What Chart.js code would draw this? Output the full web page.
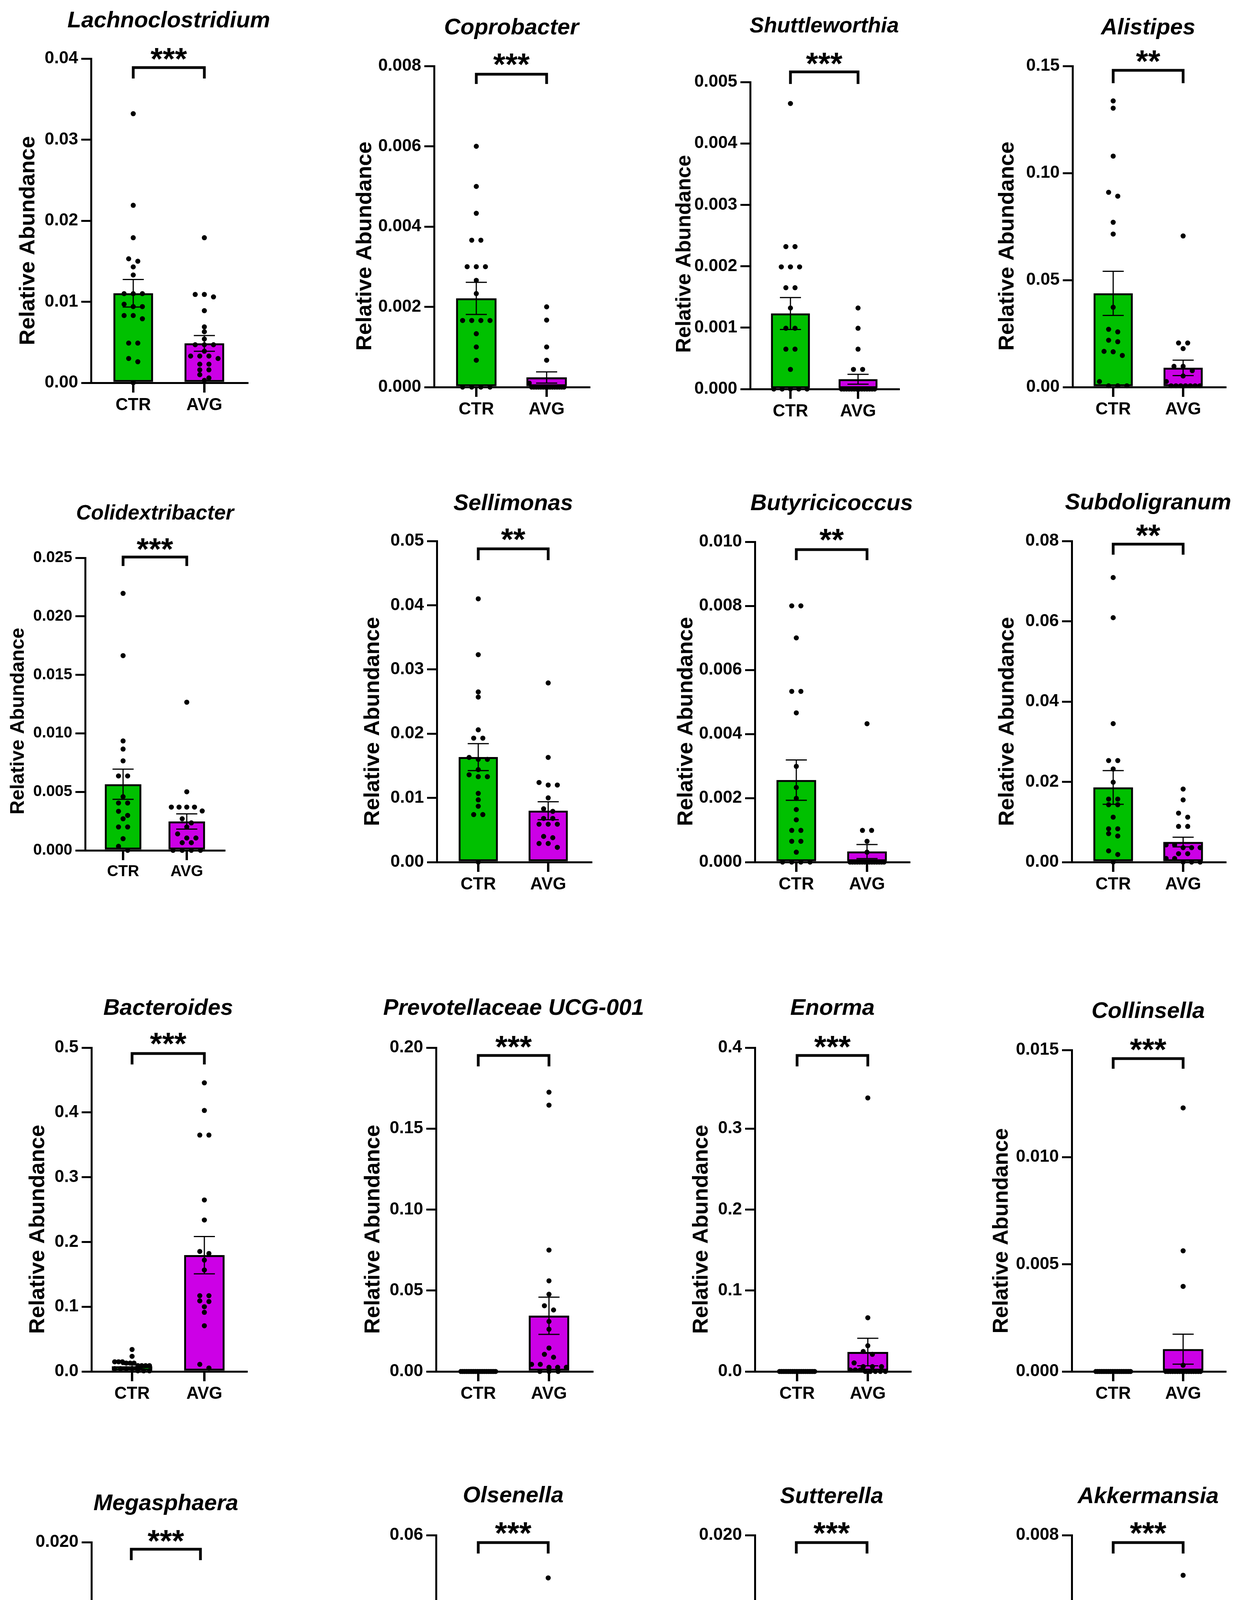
<!DOCTYPE html>
<html>
<head>
<meta charset="utf-8">
<script src="https://cdn.jsdelivr.net/npm/chart.js@4.4.0/dist/chart.umd.min.js"></script>
<style>
  html, body { margin: 0; padding: 0; background: #fff; overflow: hidden; }
  #page { position: relative; width: 3171px; height: 4860px; background: #fff; }
  #page canvas { position: absolute; }
</style>
</head>
<body>
<div id="page"></div>
<script>
// ---------------- data ----------------
const groups = ["CTR", "AVG"];

const genera = [
  "Lachnoclostridium", "Coprobacter", "Shuttleworthia", "Alistipes",
  "Colidextribacter", "Sellimonas", "Butyricicoccus", "Subdoligranum",
  "Bacteroides", "Prevotellaceae UCG-001", "Enorma", "Collinsella",
  "Megasphaera", "Olsenella", "Sutterella", "Akkermansia"
];

const stars = [
  "***", "***", "***", "**",
  "***", "**", "**", "**",
  "***", "***", "***", "***",
  "***", "***", "***", "***"
];

const yTickLabels = [
  ["0.00", "0.01", "0.02", "0.03", "0.04"],
  ["0.000", "0.002", "0.004", "0.006", "0.008"],
  ["0.000", "0.001", "0.002", "0.003", "0.004", "0.005"],
  ["0.00", "0.05", "0.10", "0.15"],
  ["0.000", "0.005", "0.010", "0.015", "0.020", "0.025"],
  ["0.00", "0.01", "0.02", "0.03", "0.04", "0.05"],
  ["0.000", "0.002", "0.004", "0.006", "0.008", "0.010"],
  ["0.00", "0.02", "0.04", "0.06", "0.08"],
  ["0.0", "0.1", "0.2", "0.3", "0.4", "0.5"],
  ["0.00", "0.05", "0.10", "0.15", "0.20"],
  ["0.0", "0.1", "0.2", "0.3", "0.4"],
  ["0.000", "0.005", "0.010", "0.015"],
  ["0.000", "0.005", "0.010", "0.015", "0.020"],
  ["0.00", "0.02", "0.04", "0.06"],
  ["0.000", "0.005", "0.010", "0.015", "0.020"],
  ["0.000", "0.002", "0.004", "0.006", "0.008"]
];

// bar heights (mean) and SEM, [CTR, AVG]
const ctrMean = [0.01105, 0.00221, 0.00123, 0.0438, 0.00565, 0.01635, 0.00256, 0.0186,
                 0.008, 0, 0, 0, 0, 0, 0.00048, 0];
const avgMean = [0.00486, 0.00024, 0.00016, 0.009, 0.00247, 0.008, 0.00033, 0.005,
                 0.1796, 0.0344, 0.024, 0.00104, 0.0036, 0.008, 0.00508, 0.0005];
const ctrSem = [0.0017, 0.0004, 0.00026, 0.0103, 0.00129, 0.0021, 0.00063, 0.0042,
                0.0028, 0, 0, 0, 0, 0, 0.0006, 0];
const avgSem = [0.00097, 0.00014, 0.00008, 0.0036, 0.00065, 0.0014, 0.00022, 0.0012,
                0.0288, 0.0115, 0.017, 0.0007, 0.00084, 0.0029, 0.0007, 0.0004];

// individual samples
const ctrValues = [
  [0.0332, 0.0219, 0.0179, 0.0153, 0.0150, 0.0143, 0.0133, 0.0110, 0.0110, 0.0110, 0.0097,
   0.0094, 0.0094, 0.0083, 0.0083, 0.0079, 0.0049, 0.0049, 0.0030, 0.0026, 0.0000],
  [0.0060, 0.0050, 0.00433, 0.00366, 0.00366, 0.0030, 0.0030, 0.0030, 0.00266, 0.00233, 0.00166,
   0.00166, 0.00166, 0.00166, 0.00133, 0.0010, 0.00067, 0, 0, 0, 0],
  [0.00465, 0.00232, 0.00232, 0.00199, 0.00199, 0.00199, 0.00165, 0.00165, 0.00132, 0.00099,
   0.00099, 0.00065, 0.00065, 0.00032, 0, 0, 0, 0, 0],
  [0.1337, 0.1303, 0.1079, 0.091, 0.0892, 0.077, 0.0715, 0.0373, 0.027, 0.0258, 0.0219, 0.0212,
   0.0167, 0.0165, 0.0148, 0.0026, 0.0006, 0.0006, 0.0006],
  [0.02196, 0.01664, 0.00935, 0.00866, 0.00765, 0.00636, 0.00636, 0.00459, 0.00405, 0.00405,
   0.00334, 0.00299, 0.0027, 0.002, 0.002, 0.001, 0.00035, 0],
  [0.041, 0.0323, 0.0265, 0.0257, 0.0206, 0.0193, 0.0193, 0.0163, 0.016, 0.016, 0.0144, 0.0136,
   0.0133, 0.0133, 0.0107, 0.0097, 0.0087, 0.0074, 0.0074, 0],
  [0.008, 0.008, 0.007, 0.00533, 0.00533, 0.00466, 0.00299, 0.00233, 0.00199, 0.00164, 0.00132,
   0.00099, 0.00099, 0.00065, 0.00065, 0.00031, 0, 0, 0, 0],
  [0.0709, 0.0609, 0.0345, 0.0253, 0.0253, 0.0232, 0.0199, 0.0157, 0.0157, 0.0143, 0.0143, 0.0112,
   0.0083, 0.0083, 0.0071, 0.0065, 0.0028, 0.0019, 0],
  [0.034, 0.0234, 0.015, 0.015, 0.015, 0.013, 0.013, 0.013, 0.009, 0.009, 0.009, 0.009, 0.0044,
   0.0044, 0.0044, 0.0044, 0.001, 0.001, 0.001],
  [0, 0, 0, 0, 0, 0, 0, 0, 0, 0, 0, 0, 0, 0, 0, 0, 0, 0, 0, 0],
  [0, 0, 0, 0, 0, 0, 0, 0, 0, 0, 0, 0, 0, 0, 0, 0, 0, 0, 0, 0],
  [0, 0, 0, 0, 0, 0, 0, 0, 0, 0, 0, 0, 0, 0, 0, 0, 0, 0, 0, 0],
  [0, 0, 0, 0, 0, 0, 0, 0, 0, 0, 0, 0, 0, 0, 0, 0, 0, 0, 0, 0],
  [0, 0, 0, 0, 0, 0, 0, 0, 0, 0, 0, 0, 0, 0, 0, 0, 0, 0, 0, 0],
  [0.011, 0.00066, 0, 0, 0, 0, 0, 0, 0, 0, 0, 0, 0, 0, 0, 0, 0, 0, 0, 0],
  [0, 0, 0, 0, 0, 0, 0, 0, 0, 0, 0, 0, 0, 0, 0, 0, 0, 0, 0, 0]
];

const avgValues = [
  [0.0179, 0.0109, 0.0109, 0.0106, 0.0089, 0.0069, 0.0063, 0.0054, 0.0047, 0.0047, 0.0047, 0.0039,
   0.0033, 0.0033, 0.0033, 0.0030, 0.0023, 0.0023, 0.0016, 0.0016, 0.0010, 0.0006, 0.0003],
  [0.0020, 0.00167, 0.0010, 0.00067, 0.0001, 0, 0, 0, 0, 0, 0, 0, 0, 0, 0, 0, 0, 0, 0, 0],
  [0.00132, 0.00099, 0.00065, 0.00032, 0.00032, 0, 0, 0, 0, 0, 0, 0, 0, 0, 0, 0, 0, 0, 0],
  [0.0706, 0.0206, 0.0206, 0.018, 0.0097, 0.0097, 0.0077, 0.0052, 0.0026, 0.0006, 0.0006, 0.0006,
   0.0006, 0.0006, 0.0006, 0.0006],
  [0.01266, 0.00501, 0.0037, 0.0037, 0.0037, 0.0037, 0.00337, 0.0027, 0.00235, 0.002, 0.00141,
   0.00106, 0.00106, 0.00066, 0.00066, 0, 0, 0, 0],
  [0.0279, 0.0163, 0.0124, 0.012, 0.012, 0.01, 0.0083, 0.0079, 0.0068, 0.0068, 0.0059, 0.0059,
   0.0059, 0.004, 0.0038, 0.0029, 0.0029, 0.0023],
  [0.00432, 0.00099, 0.00099, 0.00065, 0.00031, 0, 0, 0, 0, 0, 0, 0, 0, 0, 0, 0, 0, 0, 0, 0],
  [0.0182, 0.0155, 0.0122, 0.0112, 0.0089, 0.0089, 0.0043, 0.0043, 0.0036, 0.0036, 0.0036, 0.0021,
   0.0021, 0.0009, 0.0009, 0, 0, 0],
  [0.4457, 0.403, 0.365, 0.365, 0.2648, 0.2339, 0.1853, 0.1822, 0.172, 0.1567, 0.117, 0.117, 0.109,
   0.108, 0.1, 0.0913, 0.0706, 0.011, 0.0053],
  [0.1725, 0.1645, 0.075, 0.056, 0.0477, 0.0406, 0.038, 0.0309, 0.0261, 0.0145, 0.0106, 0.0088,
   0.0044, 0.0044, 0.0026, 0.0026, 0.0026, 0, 0, 0],
  [0.3379, 0.0664, 0.0318, 0.0247, 0.0212, 0.0106, 0.006, 0.006, 0.006, 0.0018, 0.0018, 0.0018,
   0, 0, 0, 0, 0],
  [0.0123, 0.00563, 0.00397, 0.00029, 0, 0, 0, 0, 0, 0, 0, 0, 0, 0, 0, 0, 0, 0, 0, 0],
  [0.01567, 0.00765, 0.00665, 0.00601, 0.00574, 0.00534, 0.00364, 0.00328, 0.00328, 0.00282,
   0.00259, 0.00259, 0.00231, 0.00231, 0.00131, 0.00082, 0.00031, 0.00031, 0.00031, 0],
  [0.052, 0.0247, 0.0209, 0.0116, 0.0092, 0.0092, 0.0081, 0.0049, 0.0049, 0.0043, 0.0032, 0.0027,
   0, 0, 0, 0, 0, 0],
  [0.015, 0.01001, 0.00698, 0.00698, 0.00671, 0.00632, 0.0057, 0.00529, 0.0049, 0.00463, 0.00397,
   0.00335, 0.00335, 0.00335, 0.00264, 0.00264, 0.0013, 0.00094],
  [0.007, 0.00233, 0.001, 0.00032, 0, 0, 0, 0, 0, 0, 0, 0, 0, 0, 0, 0, 0, 0, 0, 0]
];

// ---------------- layout (page pixels) ----------------
// ax = y-axis x, top/bottom = pixel of max / zero, right = end of x-axis,
// ctr/avg = bar centres, bw = bar width
const panels = [
  { ax: 233, top: 150, bottom: 980, right: 633, ctr: 341, avg: 523, bw: 101, titleY: 70, titleSize: 58, starY: 134, brY: 173, brEnd: 201, atX: 68, atY: 616, atSize: 56, tick: 44 },
  { ax: 1111, top: 169, bottom: 991, right: 1508, ctr: 1219, avg: 1399, bw: 103, titleY: 88, titleSize: 58, starY: 148, brY: 190, brEnd: 215, atX: 930, atY: 630, atSize: 56, tick: 44 },
  { ax: 1920, top: 210, bottom: 996, right: 2300, ctr: 2023, avg: 2196, bw: 99, titleY: 83, titleSize: 55, starY: 146, brY: 184, brEnd: 215, atX: 1748, atY: 650, atSize: 53, tick: 44 },
  { ax: 2745, top: 169, bottom: 991, right: 3136, ctr: 2849, avg: 3028, bw: 100, titleY: 88, titleSize: 58, starY: 140, brY: 180, brEnd: 213, atX: 2574, atY: 630, atSize: 56, tick: 44 },
  { ax: 218, top: 1428, bottom: 2177, right: 574, ctr: 315, avg: 478, bw: 93, titleY: 1330, titleSize: 53, starY: 1389, brY: 1426, brEnd: 1449, atX: 43, atY: 1846, atSize: 50, tick: 40 },
  { ax: 1118, top: 1385, bottom: 2207, right: 1513, ctr: 1224, avg: 1403, bw: 100, titleY: 1306, titleSize: 58, starY: 1364, brY: 1405, brEnd: 1434, atX: 950, atY: 1847, atSize: 56, tick: 44 },
  { ax: 1932, top: 1387, bottom: 2207, right: 2327, ctr: 2038, avg: 2219, bw: 101, titleY: 1306, titleSize: 58, starY: 1365, brY: 1407, brEnd: 1434, atX: 1752, atY: 1847, atSize: 56, tick: 44 },
  { ax: 2743, top: 1385, bottom: 2207, right: 3136, ctr: 2849, avg: 3028, bw: 101, titleY: 1304, titleSize: 58, starY: 1354, brY: 1393, brEnd: 1420, atX: 2574, atY: 1847, atSize: 56, tick: 44 },
  { ax: 234, top: 2682, bottom: 3511, right: 631, ctr: 338, avg: 523, bw: 103, titleY: 2598, titleSize: 58, starY: 2655, brY: 2697, brEnd: 2725, atX: 93, atY: 3147, atSize: 56, tick: 44 },
  { ax: 1116, top: 2682, bottom: 3511, right: 1516, ctr: 1224, avg: 1405, bw: 103, titleY: 2598, titleSize: 58, starY: 2663, brY: 2702, brEnd: 2730, atX: 951, atY: 3147, atSize: 56, tick: 44 },
  { ax: 1932, top: 2682, bottom: 3511, right: 2330, ctr: 2040, avg: 2221, bw: 104, titleY: 2598, titleSize: 58, starY: 2663, brY: 2702, brEnd: 2730, atX: 1791, atY: 3147, atSize: 56, tick: 44 },
  { ax: 2743, top: 2688, bottom: 3511, right: 3136, ctr: 2849, avg: 3028, bw: 103, titleY: 2606, titleSize: 58, starY: 2670, brY: 2710, brEnd: 2736, atX: 2559, atY: 3151, atSize: 55, tick: 44 },
  { ax: 234, top: 3948, bottom: 4751, right: 620, ctr: 336, avg: 513, bw: 99, titleY: 3866, titleSize: 58, starY: 3928, brY: 3966, brEnd: 3994, atX: 49, atY: 4398, atSize: 55, tick: 44 },
  { ax: 1116, top: 3930, bottom: 4751, right: 1513, ctr: 1224, avg: 1403, bw: 103, titleY: 3846, titleSize: 58, starY: 3908, brY: 3949, brEnd: 3977, atX: 956, atY: 4392, atSize: 56, tick: 44 },
  { ax: 1932, top: 3930, bottom: 4751, right: 2327, ctr: 2038, avg: 2219, bw: 101, titleY: 3848, titleSize: 58, starY: 3908, brY: 3949, brEnd: 3977, atX: 1748, atY: 4392, atSize: 56, tick: 44 },
  { ax: 2743, top: 3930, bottom: 4751, right: 3136, ctr: 2849, avg: 3028, bw: 103, titleY: 3848, titleSize: 58, starY: 3908, brY: 3949, brEnd: 3977, atX: 2559, atY: 4392, atSize: 56, tick: 44 }
];

const GREEN = "#00C000";
const PURPLE = "#CC00E6";
const FONT = "'Liberation Sans', Arial, sans-serif";
const PAD_LEFT = 230, PAD_TOP = 240, PAD_RIGHT = 150, PAD_BOTTOM = 120;
const DOT_R = 6.5;

Chart.defaults.font.family = FONT;
Chart.defaults.color = "#000";

// spread dots of one group sideways, rows of close values side by side
function swarm(values, group, L, yMax) {
  const pxPerY = (L.bottom - L.top) / yMax;
  const pxPerX = L.avg - L.ctr;
  const d = DOT_R * 2;
  const sorted = values.slice().sort((a, b) => b - a);
  const rows = [];
  sorted.forEach(v => {
    const last = rows[rows.length - 1];
    if (last && (last[0] - v) * pxPerY < d * 0.85) last.push(v);
    else rows.push([v]);
  });
  const pts = [];
  rows.forEach(row => {
    const k = row.length;
    const gap = k > 1 ? Math.min(d * 1.8, (L.bw - 14) / (k - 1)) : 0;
    row.forEach((v, i) => {
      const off = (i - (k - 1) / 2) * gap;
      pts.push({ x: group + off / pxPerX, y: v });
    });
  });
  return pts;
}

const page = document.getElementById("page");

panels.forEach((L, i) => {
  const ticks = yTickLabels[i];
  const yMax = parseFloat(ticks[ticks.length - 1]);
  const left = L.ax - PAD_LEFT;
  const top = L.top - PAD_TOP;
  const w = (L.right - L.ax) + PAD_LEFT + PAD_RIGHT;
  const h = (L.bottom - L.top) + PAD_TOP + PAD_BOTTOM;

  const cv = document.createElement("canvas");
  cv.width = w; cv.height = h;
  cv.style.left = left + "px"; cv.style.top = top + "px";
  cv.style.width = w + "px"; cv.style.height = h + "px";
  page.appendChild(cv);

  const span = L.avg - L.ctr;
  const xMin = (L.ax - L.ctr) / span;
  const xMax = (L.right - L.ctr) / span;

  const means = [ctrMean[i], avgMean[i]];
  const sems = [ctrSem[i], avgSem[i]];

  const decor = {
    id: "decor" + i,
    afterDatasetsDraw(chart) {
      const ctx = chart.ctx;
      const xs = chart.scales.x, ys = chart.scales.y;
      ctx.save();
      // error bars (mean +/- SEM)
      ctx.strokeStyle = "#000";
      ctx.lineWidth = 3;
      [0, 1].forEach(g => {
        if (!sems[g]) return;
        const x = xs.getPixelForValue(g);
        const yT = ys.getPixelForValue(means[g] + sems[g]);
        const yB = ys.getPixelForValue(Math.max(means[g] - sems[g], 0));
        ctx.beginPath();
        ctx.moveTo(x, yT); ctx.lineTo(x, yB);
        ctx.moveTo(x - 27, yT); ctx.lineTo(x + 27, yT);
        ctx.moveTo(x - 27, yB); ctx.lineTo(x + 27, yB);
        ctx.stroke();
      });
      const x0 = xs.getPixelForValue(0), x1 = xs.getPixelForValue(1);
      const mid = (x0 + x1) / 2;
      // significance bracket
      ctx.lineWidth = 7;
      ctx.lineJoin = "miter";
      ctx.beginPath();
      ctx.moveTo(x0, L.brEnd - top);
      ctx.lineTo(x0, L.brY - top);
      ctx.lineTo(x1, L.brY - top);
      ctx.lineTo(x1, L.brEnd - top);
      ctx.stroke();
      ctx.fillStyle = "#000";
      ctx.textAlign = "center";
      ctx.textBaseline = "alphabetic";
      ctx.font = "bold 80px " + FONT;
      ctx.fillText(stars[i], mid, L.starY - top + 44);
      // title
      ctx.font = "italic bold " + L.titleSize + "px " + FONT;
      ctx.fillText(genera[i], mid, L.titleY - top);
      // y axis title
      ctx.translate(L.atX - left + L.atSize * 0.36, L.atY - top);
      ctx.rotate(-Math.PI / 2);
      ctx.font = "bold " + L.atSize + "px " + FONT;
      ctx.fillText("Relative Abundance", 0, 0);
      ctx.restore();
    }
  };

  new Chart(cv, {
    type: "bar",
    data: {
      datasets: [
        {
          type: "scatter",
          data: swarm(ctrValues[i], 0, L, yMax).concat(swarm(avgValues[i], 1, L, yMax)),
          pointRadius: DOT_R,
          pointBackgroundColor: "#000",
          pointBorderWidth: 0,
          order: 0,
          clip: false
        },
        {
          type: "bar",
          data: [{ x: 0, y: ctrMean[i] }, { x: 1, y: avgMean[i] }],
          backgroundColor: [GREEN, PURPLE],
          borderColor: "#000",
          borderWidth: 5,
          borderSkipped: false,
          barThickness: L.bw,
          order: 1,
          clip: false
        }
      ]
    },
    options: {
      responsive: false,
      animation: false,
      devicePixelRatio: 1,
      layout: { padding: { left: 0, top: PAD_TOP, right: PAD_RIGHT, bottom: 0 } },
      plugins: { legend: { display: false }, tooltip: { enabled: false }, title: { display: false } },
      scales: {
        x: {
          type: "linear",
          offset: false,
          bounds: "data",
          min: xMin,
          max: xMax,
          afterDataLimits: s => { s.min = xMin; s.max = xMax; },
          afterBuildTicks: s => { s.ticks = groups.map((g, k) => ({ value: k })); },
          afterFit: s => { s.height = PAD_BOTTOM; },
          ticks: {
            callback: v => groups[v],
            font: { size: L.tick, weight: "bold" },
            color: "#000",
            padding: 6,
            maxRotation: 0,
            autoSkip: false
          },
          grid: { offset: false, drawOnChartArea: false, drawTicks: true, tickLength: 25, lineWidth: 6, color: "#000" },
          border: { display: true, width: 5, color: "#000" }
        },
        y: {
          type: "linear",
          min: 0,
          max: yMax,
          afterBuildTicks: s => { s.ticks = ticks.map(t => ({ value: parseFloat(t) })); },
          afterFit: s => { s.width = PAD_LEFT; },
          ticks: {
            callback: (v, k) => ticks[k],
            font: { size: L.tick, weight: "bold" },
            color: "#000",
            padding: 8
          },
          grid: { drawOnChartArea: false, drawTicks: true, tickLength: 25, lineWidth: 5, color: "#000" },
          border: { display: true, width: 5, color: "#000" }
        }
      }
    },
    plugins: [decor]
  });
});
</script>
</body>
</html>
